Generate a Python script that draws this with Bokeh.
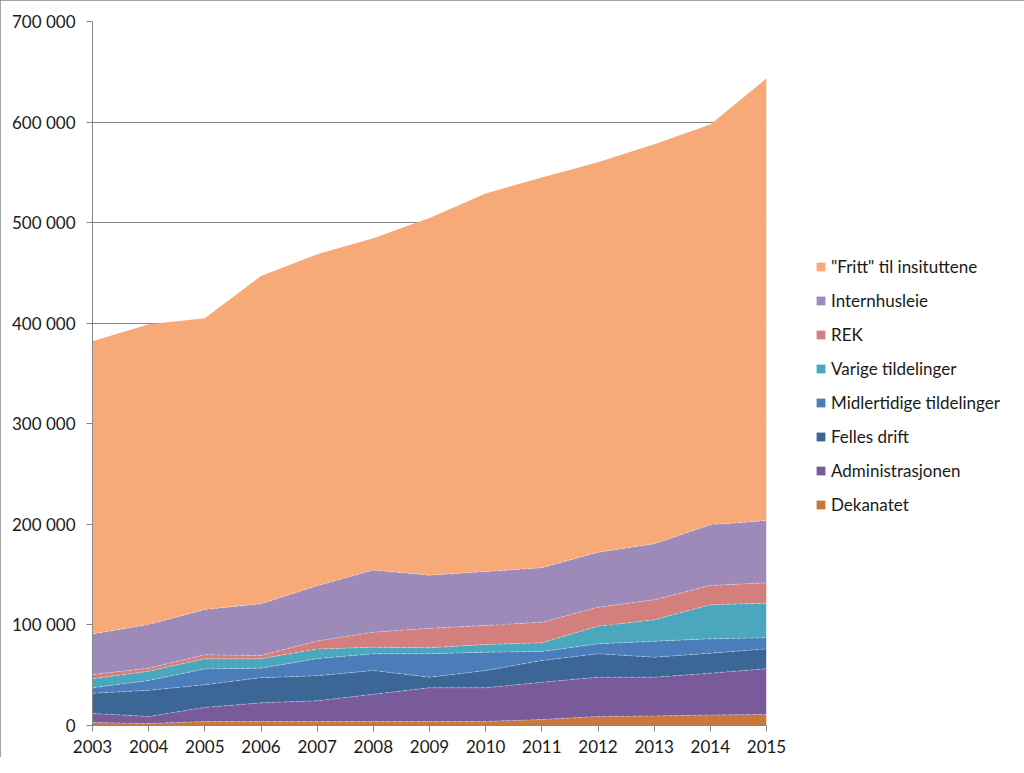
from bokeh.plotting import figure
from bokeh.models import ColumnDataSource, Legend, LegendItem, FixedTicker, InlineStyleSheet
from bokeh.embed import file_html
from bokeh.resources import INLINE

years = [2003, 2004, 2005, 2006, 2007, 2008, 2009, 2010, 2011, 2012, 2013, 2014, 2015]

dekanatet = [3000, 2000, 4000, 4000, 4000, 4000, 4000, 4000, 6000, 9000, 9500, 10500, 11000]
administrasjonen = [9000, 7000, 14000, 18500, 20500, 27000, 33500, 33500, 37000, 39000, 38500, 41500, 45500]
felles_drift = [20000, 26000, 22500, 25000, 25000, 23700, 10500, 17200, 21600, 23300, 19900, 19900, 19700]
midlertidige = [5500, 9700, 15800, 9500, 17000, 16600, 23300, 18200, 9000, 9900, 15900, 14300, 11000]
varige = [8900, 9300, 10000, 9300, 9500, 6600, 6000, 7600, 8600, 17500, 21300, 33800, 34400]
rek = [4300, 3000, 4000, 3300, 8000, 14900, 19400, 18900, 20500, 18900, 19900, 19200, 20300]
internhusleie = [40300, 43400, 45000, 51400, 55000, 61700, 52800, 53700, 54100, 54700, 55700, 60400, 61900]
fritt = [291000, 298600, 289700, 326000, 329500, 330000, 355000, 375900, 388200, 387700, 397300, 397900, 439700]

series_names = ["Dekanatet", "Administrasjonen", "Felles drift", "Midlertidige tildelinger",
                "Varige tildelinger", "REK", "Internhusleie", "\"Fritt\" til insituttene"]
series_values = [dekanatet, administrasjonen, felles_drift, midlertidige, varige, rek, internhusleie, fritt]
series_colors = ["#C8783C", "#795A9A", "#3C6696", "#4A7DB9", "#4BA7BE", "#D27F7D", "#9D8AB8", "#F7A978"]

y_ticks = [0, 100000, 200000, 300000, 400000, 500000, 600000, 700000]
y_tick_labels = ["0", "100 000", "200 000", "300 000", "400 000", "500 000", "600 000", "700 000"]
x_tick_labels = [str(y) for y in years]

keys = ["s%d" % i for i in range(len(series_names))]
data = {"year": years}
for k, v in zip(keys, series_values):
    data[k] = v
src = ColumnDataSource(data)

FONT = "Lato"
TXT = "#1a1a1a"
AX = "#868686"

p = figure(frame_width=674, frame_height=704, x_range=(2003, 2015), y_range=(0, 700000),
           output_backend="svg", toolbar_location=None,
           min_border_left=92, min_border_right=242, min_border_top=21, min_border_bottom=32)

rs = p.varea_stack(stackers=keys, x="year", color=series_colors, source=src)
p.vline_stack(stackers=keys[:-1], x="year", color="white", line_alpha=0.35, line_width=1,
              line_dash="4 2", source=src)

p.xgrid.grid_line_color = None
p.ygrid.grid_line_color = AX
p.ygrid.grid_line_width = 1
p.ygrid.ticker = FixedTicker(ticks=y_ticks)

p.yaxis.ticker = FixedTicker(ticks=y_ticks)
p.yaxis.major_label_overrides = {t: l for t, l in zip(y_ticks, y_tick_labels)}
p.xaxis.ticker = FixedTicker(ticks=years)
p.xaxis.major_label_overrides = {y: l for y, l in zip(years, x_tick_labels)}

for ax in (p.xaxis, p.yaxis):
    ax.axis_line_color = AX
    ax.major_tick_line_color = AX
    ax.major_tick_out = 6
    ax.major_tick_in = 0
    ax.minor_tick_line_color = None
    ax.major_label_text_font = FONT
    ax.major_label_text_font_size = "17px"
    ax.major_label_text_color = TXT
p.yaxis.major_label_standoff = 11
p.xaxis.major_label_standoff = 8

p.outline_line_color = None
p.background_fill_color = "white"
p.border_fill_color = "white"

items = [LegendItem(label=n, renderers=[r]) for n, r in zip(series_names, rs)][::-1]
legend = Legend(items=items, location=(49, 210), orientation="vertical",
                glyph_width=11, glyph_height=11, label_height=20, spacing=13,
                label_standoff=5, padding=0, margin=0,
                label_text_font=FONT, label_text_font_size="17px", label_text_color=TXT,
                border_line_color=None, background_fill_alpha=0)
p.add_layout(legend, "right")

p.stylesheets = [InlineStyleSheet(css=":host { outline: 2px solid #868686; outline-offset: -2px; }")]

open("out.html", "w").write(file_html(p, INLINE))
